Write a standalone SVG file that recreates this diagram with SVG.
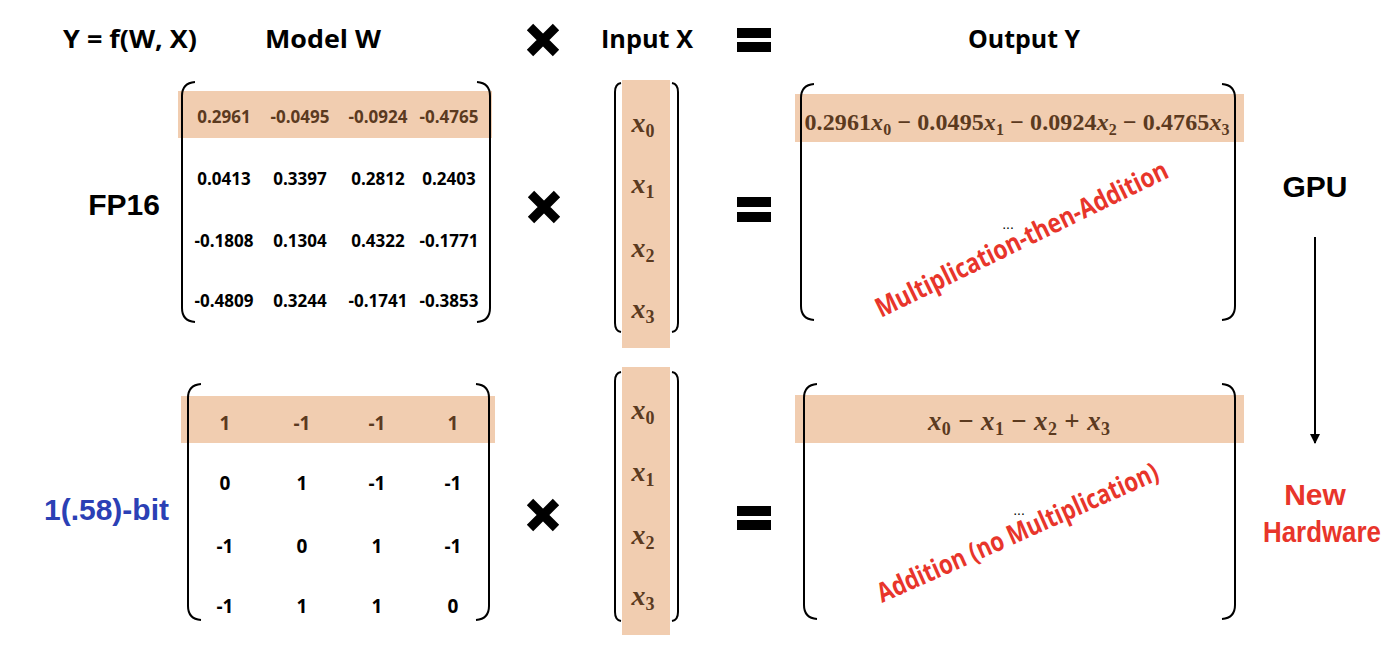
<svg xmlns="http://www.w3.org/2000/svg" width="1398" height="652" viewBox="0 0 1398 652">
<defs>
<style>
.hdr{font-family:"Open Sans","Liberation Sans",sans-serif;font-weight:700;font-size:25px;fill:#000}
.lbl{font-family:"Liberation Sans",Arial,sans-serif;font-weight:700;font-size:30px}
.fp{font-family:"Open Sans","Liberation Sans",sans-serif;font-weight:700;font-size:17px;fill:#000;text-anchor:middle}
.tern{font-family:"Open Sans","Liberation Sans",sans-serif;font-weight:700;font-size:19px;fill:#000;text-anchor:middle}
.hl{fill:#5B3A1F}
.band{fill:#F1CDB0}
.br{fill:none;stroke:#000;stroke-width:2}
.math{font-family:"Liberation Serif","Times New Roman",serif;font-weight:700;fill:#5B3A1F}
.vx{font-size:28px;text-anchor:middle}
.it{font-style:italic}
.red{font-family:"Open Sans","Liberation Sans",sans-serif;font-weight:700;font-size:27px;fill:#E8352B}
.dots{font-family:"Liberation Sans",Arial,sans-serif;font-size:14px;fill:#000;text-anchor:middle}
.op{fill:none;stroke:#000;stroke-width:9;stroke-linecap:butt}
</style>
<marker id="arr" markerWidth="10" markerHeight="10" refX="9" refY="5" orient="auto" markerUnits="userSpaceOnUse">
<path d="M0,0 L10,5 L0,10 Z" fill="#000"/>
</marker>
</defs>
<rect width="1398" height="652" fill="#fff"/>

<g id="header">
<text class="hdr" x="63" y="48" textLength="134" lengthAdjust="spacingAndGlyphs">Y = f(W, X)</text>
<text class="hdr" x="265" y="48" textLength="116" lengthAdjust="spacingAndGlyphs">Model W</text>
<text class="hdr" x="601" y="48" textLength="92" lengthAdjust="spacingAndGlyphs">Input X</text>
<text class="hdr" x="968" y="48" textLength="112" lengthAdjust="spacingAndGlyphs">Output Y</text>
<path class="op" d="M530,27 L556,53 M556,27 L530,53"/>
<rect x="737" y="28" width="34" height="10" fill="#000"/>
<rect x="737" y="42" width="34" height="10" fill="#000"/>
</g>

<g id="label-fp16"><text class="lbl" x="160" y="215" text-anchor="end" fill="#000">FP16</text></g>
<g id="label-ternary"><text class="lbl" x="169" y="520" text-anchor="end" fill="#2B40B5">1(.58)-bit</text></g>
<g id="label-gpu"><text class="lbl" x="1315" y="197" text-anchor="middle" fill="#000">GPU</text></g>
<g id="label-newhw">
<text class="lbl" x="1315" y="505" text-anchor="middle" fill="#E8352B" font-size="27">New</text>
<text class="lbl" x="1322" y="542" text-anchor="middle" fill="#E8352B" font-size="27" textLength="118" lengthAdjust="spacingAndGlyphs">Hardware</text>
</g>

<g id="matrix-w-fp16">
<rect class="band" x="178" y="91" width="314" height="47"/>
<path class="br" d="M195,82 Q182,83 182,96 L182,308 Q182,321 195,322"/>
<path class="br" d="M477,82 Q490,83 490,96 L490,308 Q490,321 477,322"/>
<g class="fp">
<text class="hl" x="224" y="123">0.2961</text><text class="hl" x="300" y="123">-0.0495</text><text class="hl" x="378" y="123">-0.0924</text><text class="hl" x="449" y="123">-0.4765</text>
<text x="224" y="185">0.0413</text><text x="300" y="185">0.3397</text><text x="378" y="185">0.2812</text><text x="449" y="185">0.2403</text>
<text x="224" y="247">-0.1808</text><text x="300" y="247">0.1304</text><text x="378" y="247">0.4322</text><text x="449" y="247">-0.1771</text>
<text x="224" y="307">-0.4809</text><text x="300" y="307">0.3244</text><text x="378" y="307">-0.1741</text><text x="449" y="307">-0.3853</text>
</g>
</g>

<g id="op-mul-1"><path class="op" d="M531,194 L557,220 M557,194 L531,220"/></g>

<g id="vector-x-1">
<rect class="band" x="622" y="80" width="48" height="268"/>
<path class="br" d="M621,83 Q615,84 615,92 L615,323 Q615,331 621,332"/>
<path class="br" d="M672,83 Q678,84 678,92 L678,323 Q678,331 672,332"/>
<g class="math vx">
<text x="643" y="132"><tspan class="it">x</tspan><tspan font-size="18" dy="5">0</tspan></text>
<text x="643" y="193"><tspan class="it">x</tspan><tspan font-size="18" dy="5">1</tspan></text>
<text x="643" y="257"><tspan class="it">x</tspan><tspan font-size="18" dy="5">2</tspan></text>
<text x="643" y="318"><tspan class="it">x</tspan><tspan font-size="18" dy="5">3</tspan></text>
</g>
</g>

<g id="op-eq-1"><rect x="737" y="197" width="34" height="10" fill="#000"/><rect x="737" y="212" width="34" height="10" fill="#000"/></g>

<g id="output-y-1">
<rect class="band" x="795" y="94" width="449" height="48"/>
<path class="br" d="M814,84 Q801,85 801,98 L801,306 Q801,319 814,320"/>
<path class="br" d="M1222,84 Q1235,85 1235,98 L1235,306 Q1235,319 1222,320"/>
<text class="math" x="1017" y="130" font-size="24" text-anchor="middle" textLength="425" lengthAdjust="spacing">0.2961<tspan class="it">x</tspan><tspan font-size="16" dy="5">0</tspan><tspan dy="-5"> − 0.0495</tspan><tspan class="it">x</tspan><tspan font-size="16" dy="5">1</tspan><tspan dy="-5"> − 0.0924</tspan><tspan class="it">x</tspan><tspan font-size="16" dy="5">2</tspan><tspan dy="-5"> − 0.4765</tspan><tspan class="it">x</tspan><tspan font-size="16" dy="5">3</tspan></text>
<text class="dots" x="1008" y="229">...</text>
<text class="red" transform="translate(881,318) rotate(-26)" textLength="322" lengthAdjust="spacingAndGlyphs">Multiplication-then-Addition</text>
</g>

<g id="matrix-w-ternary">
<rect class="band" x="181" y="396" width="314" height="47"/>
<path class="br" d="M201,384 Q188,385 188,398 L188,606 Q188,619 201,620"/>
<path class="br" d="M476,384 Q489,385 489,398 L489,606 Q489,619 476,620"/>
<g class="tern">
<text class="hl" x="225" y="430">1</text><text class="hl" x="302" y="430">-1</text><text class="hl" x="377" y="430">-1</text><text class="hl" x="453" y="430">1</text>
<text x="225" y="490">0</text><text x="302" y="490">1</text><text x="377" y="490">-1</text><text x="453" y="490">-1</text>
<text x="225" y="553">-1</text><text x="302" y="553">0</text><text x="377" y="553">1</text><text x="453" y="553">-1</text>
<text x="225" y="613">-1</text><text x="302" y="613">1</text><text x="377" y="613">1</text><text x="453" y="613">0</text>
</g>
</g>

<g id="op-mul-2"><path class="op" d="M530,502 L556,528 M556,502 L530,528"/></g>

<g id="vector-x-2">
<rect class="band" x="622" y="367" width="48" height="268"/>
<path class="br" d="M621,372 Q615,373 615,381 L615,612 Q615,620 621,621"/>
<path class="br" d="M672,372 Q678,373 678,381 L678,612 Q678,620 672,621"/>
<g class="math vx">
<text x="643" y="419"><tspan class="it">x</tspan><tspan font-size="18" dy="5">0</tspan></text>
<text x="643" y="481"><tspan class="it">x</tspan><tspan font-size="18" dy="5">1</tspan></text>
<text x="643" y="544"><tspan class="it">x</tspan><tspan font-size="18" dy="5">2</tspan></text>
<text x="643" y="605"><tspan class="it">x</tspan><tspan font-size="18" dy="5">3</tspan></text>
</g>
</g>

<g id="op-eq-2"><rect x="737" y="506" width="34" height="10" fill="#000"/><rect x="737" y="520" width="34" height="10" fill="#000"/></g>

<g id="output-y-2">
<rect class="band" x="795" y="395" width="449" height="48"/>
<path class="br" d="M817,384 Q804,385 804,398 L804,605 Q804,618 817,619"/>
<path class="br" d="M1222,384 Q1235,385 1235,398 L1235,605 Q1235,618 1222,619"/>
<text class="math" x="1019" y="430" font-size="27" text-anchor="middle" textLength="182" lengthAdjust="spacing"><tspan class="it">x</tspan><tspan font-size="18" dy="5">0</tspan><tspan dy="-5"> − </tspan><tspan class="it">x</tspan><tspan font-size="18" dy="5">1</tspan><tspan dy="-5"> − </tspan><tspan class="it">x</tspan><tspan font-size="18" dy="5">2</tspan><tspan dy="-5"> + </tspan><tspan class="it">x</tspan><tspan font-size="18" dy="5">3</tspan></text>
<text class="dots" x="1019" y="515">...</text>
<text class="red" transform="translate(882,603) rotate(-24)" textLength="305" lengthAdjust="spacingAndGlyphs">Addition (no Multiplication)</text>
</g>

<g id="connectors">
<line x1="1315" y1="237" x2="1315" y2="443" stroke="#000" stroke-width="2" marker-end="url(#arr)"/>
</g>
</svg>
